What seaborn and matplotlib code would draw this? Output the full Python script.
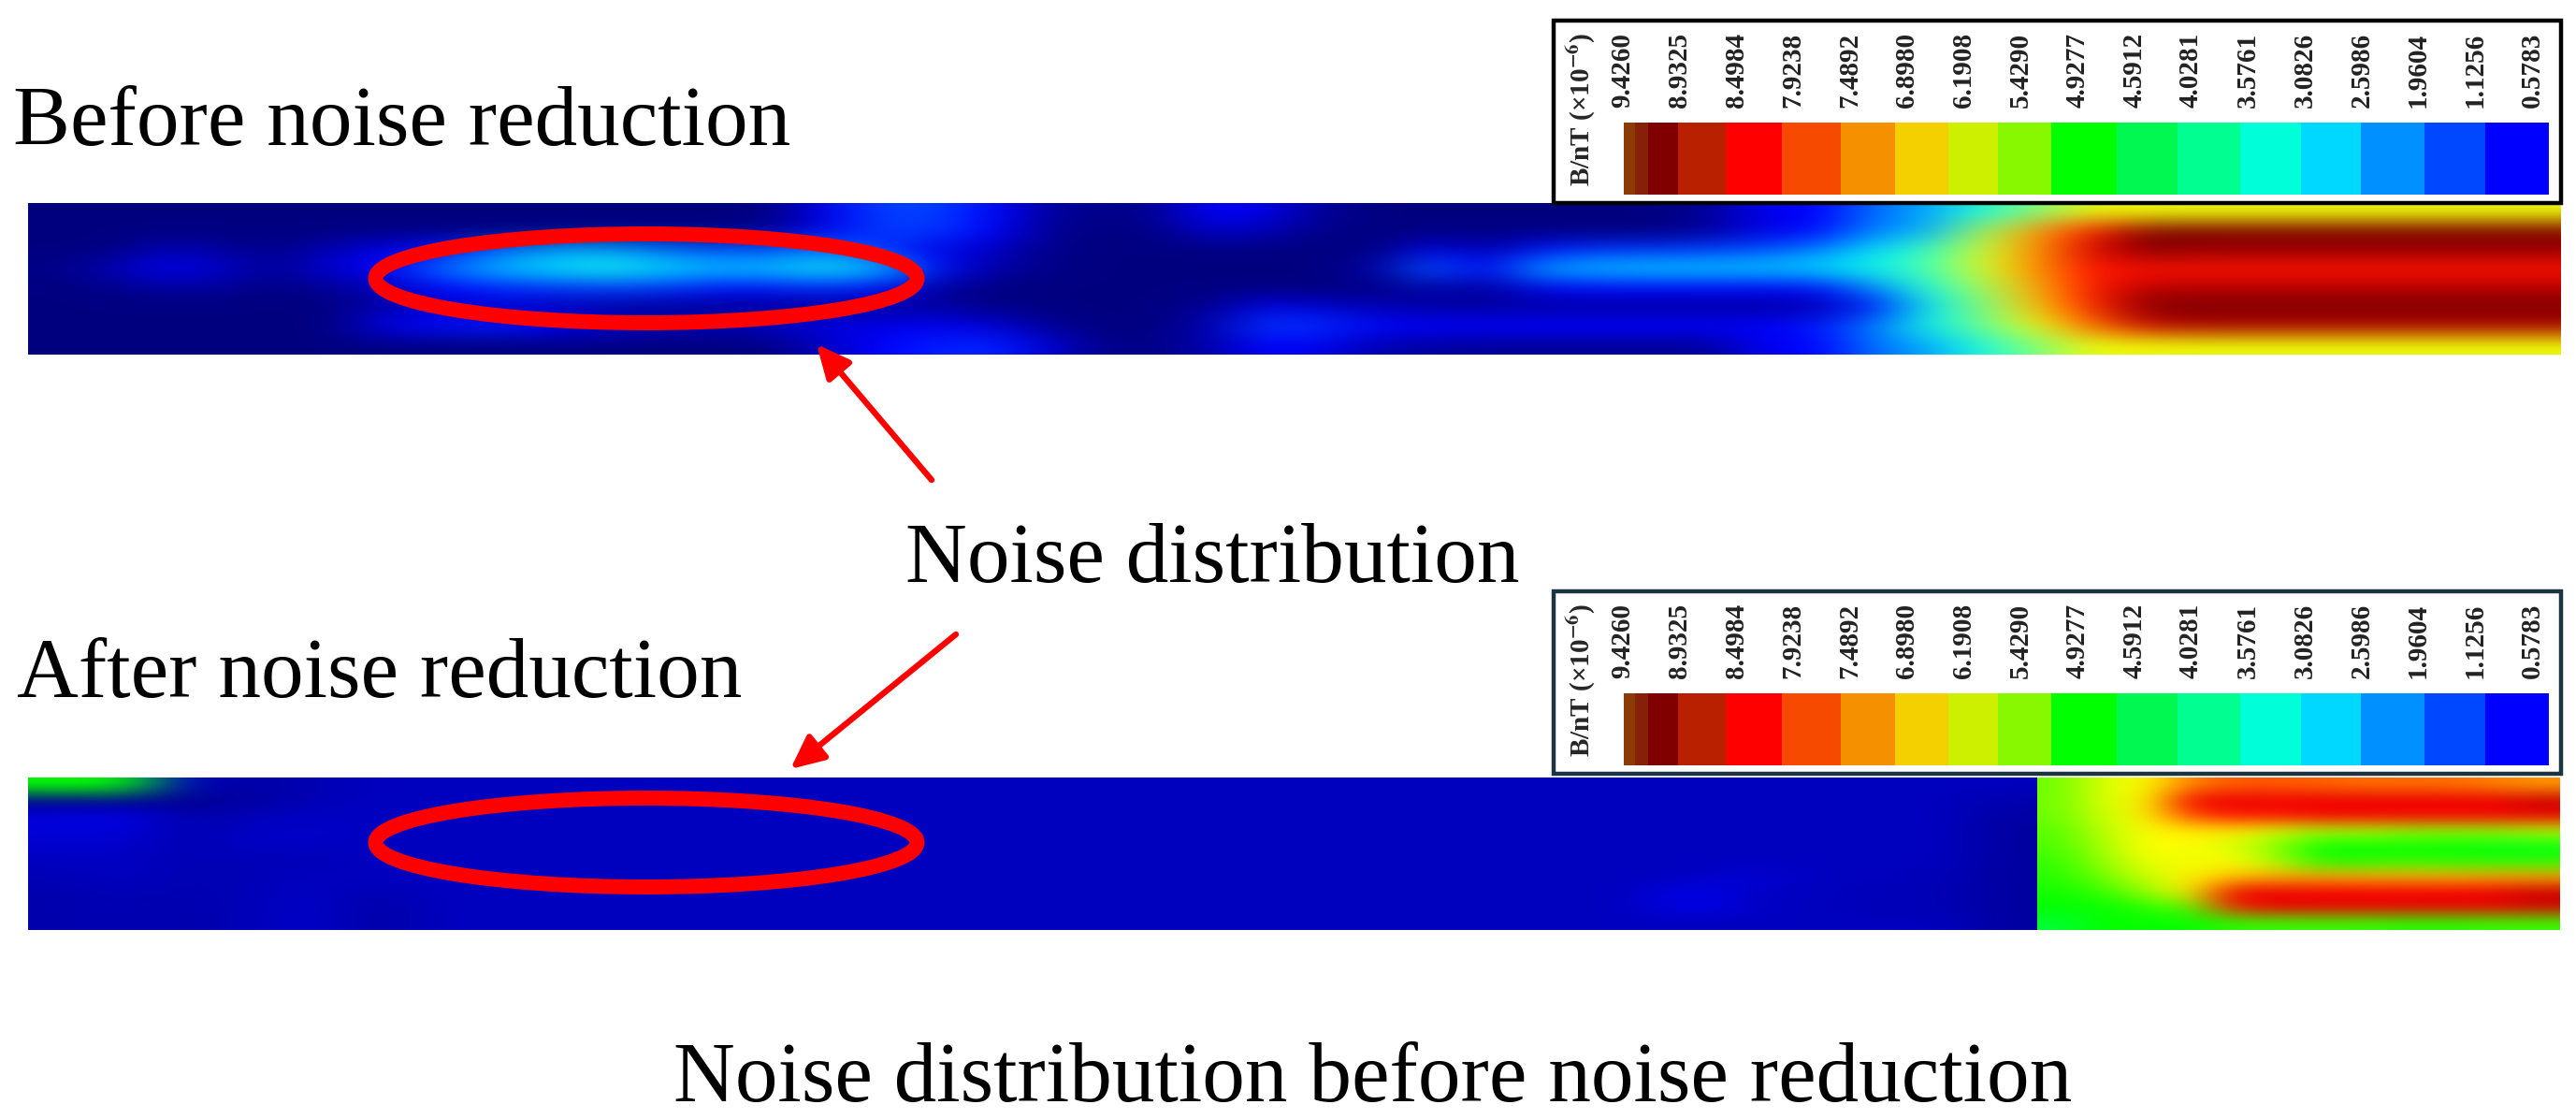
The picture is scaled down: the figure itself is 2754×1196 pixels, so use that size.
import numpy as np
import matplotlib
matplotlib.use("Agg")
import matplotlib.pyplot as plt
from matplotlib.colors import ListedColormap, LinearSegmentedColormap
from matplotlib.patches import Ellipse, Rectangle
import seaborn as sns

W, H = 2754, 1196

level_labels = ["9.4260", "8.9325", "8.4984", "7.9238", "7.4892", "6.8980", "6.1908", "5.4290", "4.9277",
                "4.5912", "4.0281", "3.5761", "3.0826", "2.5986", "1.9604", "1.1256", "0.5783"]
level_colors = ["#8c3a06", "#862006", "#800000", "#b82000", "#ff0000", "#f54a00", "#f59000", "#f5d000", "#ccf000",
                "#88f800", "#00ff00", "#00f850", "#00ff90", "#00ffd8", "#00d8ff", "#0090ff", "#0048ff", "#0000ff"]
level_widths = [12, 14, 32, 51, 60, 63, 58, 57, 53, 57, 70, 65, 67, 65, 64, 68, 65, 68]

# field before noise reduction, top row to bottom row
before_r0 = [0]*14 + [1.0, 1.9, 1.9, 1.3, 0.3, 0.1, 0.2, 1.1, 0.9, 0.2] + [0]*6 + [0.2, 1.0, 1.2, 2.3, 2.9, 3.8, 5.0] + [6.4]*9
before_r1 = [0]*13 + [0.2, 1.0, 1.8, 1.8, 1.2, 0.2, 0, 0.1, 0.7, 0.5, 0.1] + [0]*6 + [0.2, 0.9, 1.3, 2.5, 3.0, 5.5, 7.5, 8.8] + [10]*8
before_r2 = [0, 0, 0.5, 0.3, 0.1, 0.5, 0.9, 1.4, 2.2, 2.7, 2.8, 2.3, 2.0, 2.0, 2.4, 1.7, 0.9, 0.6, 0.1] + [0]*6 + [0.9, 0.4, 1.4, 1.7, 1.7, 1.8, 2.0, 2.5, 3.4, 4.2, 6.0, 7.6, 9.2, 10] + [9.8]*7
before_r3 = [0.1, 0.5, 1.0, 0.7, 0.2, 0.8, 1.1, 2.4, 3.1, 3.5, 3.7, 3.5, 3.2, 3.3, 3.6, 3.2, 1.4, 0.4, 0.1] + [0]*5 + [0.4, 2.2, 1.3, 2.9, 3.2, 3.3, 3.3, 3.3, 3.4, 3.7, 4.4, 6.2, 7.6] + [8.9]*9
before_r4 = [0, 0.1, 0.3, 0.2, 0, 0.2, 0.5, 1.2, 1.6, 1.7, 1.8, 1.7, 1.4, 1.4, 1.6, 1.2, 0.3] + [0]*8 + [0.4, 0.2, 1.0, 1.1, 1.2, 1.2, 1.2, 1.3, 2.6, 3.8, 5.5, 7.3, 8.9] + [9.5]*8
before_r5 = [0]*6 + [0.4, 0.7, 0.7, 0.5, 0.3, 0.2, 0.2, 0.2, 0.2, 0.3, 0.3, 0.1, 0, 0, 0, 0.2, 0.9, 0.7, 0.5, 0.3, 0.3, 0.3, 0.3, 0.3, 0.3, 0.3, 0.4, 1.4, 3.5, 5.0, 7.0, 8.8] + [10]*8
before_r6 = [0]*6 + [1.0, 1.4, 1.5, 1.1, 0.7, 0.5, 0.5, 0.6, 0.9, 0.9, 1.0, 0.8, 0.2, 0, 0, 0.5, 1.8, 1.7, 1.3, 1.1, 1.1, 1.2, 1.2, 1.1, 1.1, 1.1, 1.5, 2.5, 3.7, 4.8, 6.4, 8.0, 9.3] + [9.6]*7
before_r7 = [0]*14 + [0.6, 1.1, 1.6, 1.6, 0.8, 0.1, 0.1, 0.4, 1.1, 0.9, 0.4, 0.3, 0.2, 0.2, 0.2, 0.2, 0.2, 1.0, 1.2, 2.3, 2.9, 3.8, 5.0] + [6.4]*9

# field after noise reduction, quiet part on the left
after_left_r0 = [5.0, 5.0, 0.6, 0.35, 0.45] + [0.55]*27
after_left_r1 = [0.1, 0.1, 0.1, 0.3, 0.5, 0.55] + [0.55]*25 + [0.4]
after_left_r2 = [0.8, 0.9, 0.4, 0.5, 0.6] + [0.55]*26 + [0.35]
after_left_r3 = [0.8, 0.8, 0.4, 0.6, 0.7] + [0.55]*26 + [0.3]
after_left_r4 = [0.7, 0.7, 0.45, 0.6, 0.6] + [0.55]*26 + [0.3]
after_left_r5 = [0.55, 0.6, 0.45, 0.5, 0.5] + [0.55]*26 + [0.3]
after_left_r6 = [0.5, 0.6, 0.45, 0.5, 0.55] + [0.55]*22 + [0.8, 0.55, 0.55, 0.5, 0.3]
after_left_r7 = [0.4, 0.5, 0.45, 0.5, 0.6, 0.45] + [0.55]*20 + [1.0, 0.6, 0.55, 0.5, 0.5, 0.3]
after_left_r8 = [0.4, 0.5, 0.4, 0.5, 0.7, 0.35] + [0.55]*20 + [1.0, 0.6, 0.55, 0.5, 0.5, 0.3]
after_left_r9 = [0.4, 0.45, 0.4, 0.5, 0.7, 0.35] + [0.55]*25 + [0.3]

# field after noise reduction, right of the sharp edge
after_right_r0 = [5.6, 6.2, 6.4, 7.6, 8.0, 8.0, 7.9, 7.8, 7.8, 7.8, 7.6, 7.4]
after_right_r1 = [5.6, 6.2, 6.5, 9.0, 9.1, 9.0, 9.1, 9.1, 9.1, 9.1, 9.1, 9.4]
after_right_r2 = [5.6, 6.1, 6.5, 8.2, 8.7, 8.7, 8.9, 8.9, 8.9, 8.9, 8.9, 9.0]
after_right_r3 = [5.5, 6.0, 6.4, 6.6, 6.6, 6.2, 5.9, 6.0, 5.8, 5.8, 5.8, 6.0]
after_right_r4 = [5.4, 5.9, 6.4, 6.4, 6.2, 5.7, 5.0, 5.0, 5.0, 5.0, 4.9, 4.9]
after_right_r5 = [5.3, 5.8, 6.3, 6.3, 6.4, 5.9, 5.2, 5.2, 5.3, 5.2, 5.2, 5.2]
after_right_r6 = [5.2, 5.6, 6.1, 6.5, 7.0, 7.2, 7.3, 7.2, 7.2, 7.2, 7.3, 7.3]
after_right_r7 = [5.1, 5.3, 5.8, 6.6, 9.1, 9.1, 9.0, 9.0, 9.0, 9.0, 9.1, 9.4]
after_right_r8 = [5.0, 5.0, 5.2, 5.5, 8.6, 9.0, 9.0, 9.0, 9.0, 9.0, 9.0, 9.2]
after_right_r9 = [4.7, 5.0, 5.0, 5.0, 5.2, 5.3, 5.3, 5.3, 5.2, 5.2, 5.3, 5.3]

SERIF = "Liberation Serif"

after_cmap = LinearSegmentedColormap.from_list("after", [
    (0.0, "#000080"), (0.11, "#0000ff"), (0.36, "#00ffff"), (0.5, "#00ff00"),
    (0.64, "#ffff00"), (0.89, "#ff0000"), (1.0, "#800000")])


def px_axes(fig, x0, y0, x1, y1, zorder):
    return fig.add_axes([x0 / W, 1 - y1 / H, (x1 - x0) / W, (y1 - y0) / H], zorder=zorder)


def draw_field(fig, rows, cmap, x0, y0, x1, y1):
    ax = px_axes(fig, x0, y0, x1, y1, 0)
    ax.imshow(np.array(rows, dtype=float), cmap=cmap, vmin=0, vmax=10, aspect="auto",
              interpolation="bicubic", interpolation_stage="rgba")
    ax.axis("off")


def draw_legend(fig, overlay, dy, edge):
    overlay.add_patch(Rectangle((1661, 22 + dy), 1077, 195, fc="white", ec=edge, lw=3.2))
    ax = px_axes(fig, 1736, 131 + dy, 2725, 208 + dy, 2)
    cells = np.repeat(np.arange(len(level_colors)), level_widths)[None, :]
    sns.heatmap(cells, ax=ax, cmap=ListedColormap(level_colors), vmin=0, vmax=len(level_colors) - 1,
                cbar=False, xticklabels=False, yticklabels=False)
    for x, label in zip(np.linspace(1735, 2707, len(level_labels)), level_labels):
        overlay.text(x, 115 + dy, label, rotation=90, ha="center", va="bottom",
                     family=SERIF, fontsize=21, weight="bold", color="#222222")
    overlay.text(1690, 199 + dy, r"B/nT (×10$^{\mathbf{-6}}$)", rotation=90, ha="center", va="bottom",
                 family=SERIF, fontsize=21, weight="bold")


def draw_arrow(overlay, start, tip):
    overlay.annotate("", xy=tip, xytext=start,
                     arrowprops=dict(arrowstyle="-|>,head_length=0.9,head_width=0.42", color="#ff0000",
                                     lw=4.6, mutation_scale=24, shrinkA=0, shrinkB=0))


def main():
    sns.set_theme(style="white")
    plt.rcParams["mathtext.fontset"] = "stix"
    fig = plt.figure(figsize=(W / 100, H / 100), dpi=100, facecolor="white")

    before = [before_r0, before_r1, before_r2, before_r3, before_r4, before_r5, before_r6, before_r7]
    after_left = [after_left_r0, after_left_r1, after_left_r2, after_left_r3, after_left_r4,
                  after_left_r5, after_left_r6, after_left_r7, after_left_r8, after_left_r9]
    after_right = [after_right_r0, after_right_r1, after_right_r2, after_right_r3, after_right_r4,
                   after_right_r5, after_right_r6, after_right_r7, after_right_r8, after_right_r9]
    draw_field(fig, before, "jet", 30, 217, 2737, 379)
    draw_field(fig, after_left, after_cmap, 30, 831, 2178, 994)
    draw_field(fig, after_right, after_cmap, 2178, 831, 2737, 994)

    overlay = fig.add_axes([0, 0, 1, 1], zorder=1)
    overlay.set_xlim(0, W)
    overlay.set_ylim(H, 0)
    overlay.axis("off")
    overlay.patch.set_alpha(0)

    draw_legend(fig, overlay, 0, "black")
    draw_legend(fig, overlay, 610, "#1b3442")

    for cy in (297.5, 900.5):
        overlay.add_patch(Ellipse((691, cy), 579, 95, fc="none", ec="#ff0000", lw=11.5))
    draw_arrow(overlay, (996, 513), (873, 368))
    draw_arrow(overlay, (1022, 678), (845, 822))

    big = dict(family=SERIF, fontsize=65.7, color="black", va="baseline")
    overlay.text(14, 155, "Before noise reduction", **big)
    overlay.text(968, 622, "Noise distribution", **big)
    overlay.text(18, 745, "After noise reduction", **big)
    overlay.text(720, 1177, "Noise distribution before noise reduction", **big)

    fig.savefig("out.png", dpi=100)
    plt.close(fig)


if __name__ == "__main__":
    main()
